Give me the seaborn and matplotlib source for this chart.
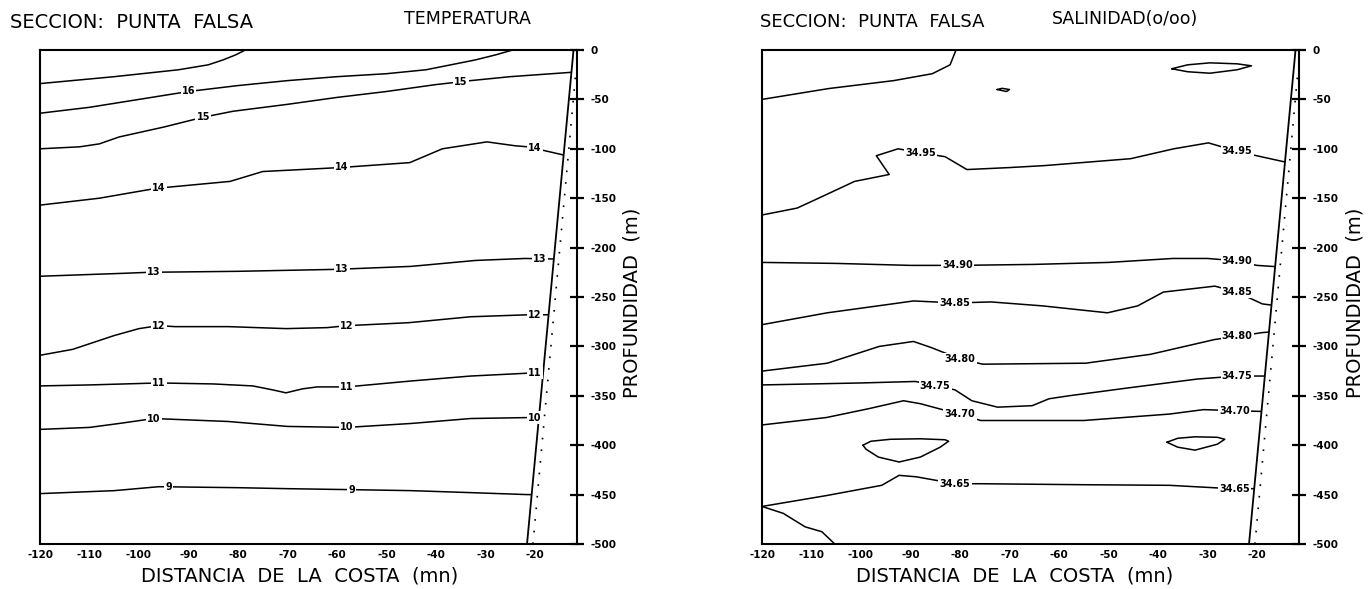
import numpy as np
import matplotlib
matplotlib.use("Agg")
import matplotlib.pyplot as plt
import seaborn as sns
from matplotlib.patches import Polygon

# ---------------- axes / ticks ----------------
x_ticks = [-120, -110, -100, -90, -80, -70, -60, -50, -40, -30, -20]
x_tick_labels = ["-120", "-110", "-100", "-90", "-80", "-70", "-60", "-50", "-40", "-30", "-20"]
y_ticks = [0, -50, -100, -150, -200, -250, -300, -350, -400, -450, -500]
y_tick_labels = ["0", "-50", "-100", "-150", "-200", "-250", "-300", "-350", "-400", "-450", "-500"]

# coast (solid) and shelf (dotted) lines
coast_x = [-21.6, -12.2]
coast_y = [-500, 0]
shelf_x = [-20.4, -11.7]
shelf_y = [-500, -20]

# ---------------- TEMPERATURA isolines ----------------
t17_x = [-120, -105, -92, -86, -83, -80.5, -78.5]
t17_y = [-34, -27, -20, -15, -10, -5, 0]
t16_x = [-120, -110, -100, -90, -80, -70, -60, -50, -42, -37, -32, -28, -24.5]
t16_y = [-64, -58, -50, -42, -36, -31, -27, -24, -20, -15, -10, -5, 0]
t15_x = [-120, -112, -108, -104, -95, -87, -81, -70, -60, -50, -40, -33, -25, -11]
t15_y = [-100, -98, -95, -88, -78, -68, -62, -55, -48, -42, -35, -31, -27, -22]
t14_x = [-120, -108, -96.5, -81.6, -75, -59.4, -45.3, -38.7, -29.7, -23.9, -21.4, -11]
t14_y = [-157, -150, -140, -133, -123, -119, -114, -100, -93, -97, -98, -110]
t13_x = [-120, -103, -98, -80, -60, -45, -32, -22, -11]
t13_y = [-229, -226, -225, -224, -222, -219, -213, -211, -212]
t12_x = [-120, -113.4, -105, -100, -96, -92.7, -81.9, -70.3, -62, -57.9, -45.5, -33, -21.4, -11]
t12_y = [-309, -303, -289, -282, -279, -280, -280, -282, -281, -279, -276, -270, -268, -268]
t11_x = [-120, -110, -96, -85, -77, -73, -70.3, -67, -64, -58, -45, -33, -21, -11]
t11_y = [-340, -339, -337, -338, -340, -344, -347, -343, -341, -341, -335, -330, -327, -326]
t10_x = [-120, -110, -104, -97, -82, -70, -58, -45, -33, -21, -11]
t10_y = [-384, -382, -378, -373, -376, -381, -382, -378, -373, -372, -372]
t9_x = [-120, -105, -96, -80, -70, -57, -45, -33, -21.5, -11]
t9_y = [-449, -446, -442, -443, -444, -445, -446, -448, -450, -450]

temp_levels = ["16", "15", "14", "13", "12", "11", "10", "9"]
temp_label_x = [[-90], [-87, -35], [-96, -59, -20], [-97, -59, -19],
                [-96, -58, -20], [-96, -58, -20], [-97, -58, -20], [-94, -57]]

# ---------------- SALINIDAD isolines ----------------
s_top_x = [-120, -106.5, -93.4, -85.6, -82, -80.8]
s_top_y = [-50, -39, -31, -24, -15, 0]
s_cell_x = [-37.2, -34, -29.5, -24, -21.1, -24, -29.5, -34, -37.2]
s_cell_y = [-19, -15, -13, -14, -16, -20, -23.5, -22, -19]
s_dot_x = [-72.5, -71.5, -70, -70.6, -72.5]
s_dot_y = [-40, -38.8, -40, -42, -40]
s95_x = [-120, -112.9, -109, -101.3, -94.3, -96.9, -92.5, -88, -83, -78.6, -70, -62.9, -45.5, -36.8, -29.8, -23.7, -11]
s95_y = [-167, -160, -151, -133, -126, -107, -100, -104, -108, -121, -119, -117, -110, -100, -94, -103, -117]
s90_x = [-120, -105, -90, -80, -65, -50, -37, -30, -25, -20, -11]
s90_y = [-215, -216, -218, -218, -217, -215, -211, -211, -213, -218, -221]
s85_x = [-120, -106.8, -93.7, -89.4, -80.7, -73.7, -63.3, -50.2, -44.1, -38.9, -28.5, -24.1, -18.9, -11]
s85_y = [-278, -266, -257, -254, -256, -255, -259, -266, -259, -245, -239, -245, -257, -262]
s80_x = [-120, -106.8, -96.3, -89.4, -85.9, -79.8, -75.4, -54.6, -41.5, -28.5, -24.1, -18.9, -11]
s80_y = [-325, -317, -300, -295, -301, -313, -318, -317, -308, -293, -290, -286, -283]
s75_x = [-120, -100, -89, -84.6, -81, -77.6, -72.4, -65.4, -62, -58, -46, -32, -24, -11]
s75_y = [-339, -337, -335.5, -340, -344, -355, -361.5, -360, -353, -350, -342, -333, -330, -330]
s70_x = [-120, -107, -98.4, -91.4, -88, -80.2, -75.8, -55, -37.7, -30.8, -24.8, -11]
s70_y = [-379.5, -372, -363, -355, -358, -368.5, -375, -375, -368.5, -364, -365, -367]
s_lens1_x = [-99.6, -98, -94, -88, -83, -82.3, -84, -88, -92.3, -96.5, -99, -99.6]
s_lens1_y = [-400, -396, -394, -393.5, -394.5, -396, -402, -412, -417, -412, -404, -400]
s_lens2_x = [-38.2, -36, -32.5, -28, -26.5, -28, -32.5, -36, -38.2]
s_lens2_y = [-397, -393, -391.5, -392, -394, -399, -405, -402, -397]
s65_x = [-120, -107, -95.8, -92.3, -88.8, -81, -75.8, -55, -37.7, -25.2, -11]
s65_y = [-462, -451, -440.6, -430.5, -432, -439, -439, -440, -440.6, -444, -444]
s_bot_x = [-120, -115.7, -111.3, -107.9, -105.3]
s_bot_y = [-462, -469, -482.6, -487.6, -500]

sal_levels = ["34.95", "34.90", "34.85", "34.80", "34.75", "34.70", "34.65"]
sal_label_x = [[-88, -24], [-80.5, -24], [-81, -24], [-80, -24],
               [-85, -24], [-80, -24.5], [-81, -24.5]]

# ---------------- drawing ----------------
sns.set_style("white")
plt.rcParams['font.family'] = ['DejaVu Sans']
plt.rcParams['text.color'] = 'black'
plt.rcParams['axes.labelcolor'] = 'black'
plt.rcParams['xtick.color'] = 'black'
plt.rcParams['ytick.color'] = 'black'

W, H = 1372, 589
fig = plt.figure(figsize=(W / 100, H / 100), dpi=100)
ax_t = fig.add_axes([40 / W, 1 - 544 / H, 537 / W, 494 / H])
ax_s = fig.add_axes([762 / W, 1 - 544 / H, 537 / W, 494 / H])

XMIN, XMAX = -120, -11.5


def y_on_line(xs, ys, x0):
    res = ys[0]
    for i in range(len(xs) - 1):
        a, b = xs[i], xs[i + 1]
        if a != b and min(a, b) <= x0 <= max(a, b):
            t = (x0 - a) / (b - a)
            res = ys[i] + t * (ys[i + 1] - ys[i])
    return res


def draw_line(ax, xs, ys, clip):
    sns.lineplot(x=xs, y=ys, sort=False, estimator=None, color="black",
                 linewidth=1.1, ax=ax)
    ax.lines[-1].set_clip_path(clip)


def setup(ax):
    ax.set_xlim(XMIN, XMAX)
    ax.set_ylim(-500, 0)
    ocean = Polygon([(XMIN, 0), (coast_x[1], coast_y[1]), (coast_x[0], coast_y[0]), (XMIN, -500)],
                    closed=True, transform=ax.transData, facecolor="none", edgecolor="none")
    ax.add_patch(ocean)
    ax.set_xticks(x_ticks)
    ax.set_xticklabels(x_tick_labels, fontsize=7.5, fontweight="bold", color="black")
    ax.yaxis.tick_right()
    ax.set_yticks(y_ticks)
    ax.set_yticklabels(y_tick_labels, fontsize=7.5, fontweight="bold", color="black")
    ax.tick_params(axis="x", direction="in", length=6, width=1.2, pad=4, colors="black")
    ax.tick_params(axis="y", direction="inout", length=10, width=1.6, pad=5, colors="black",
                   left=False, right=True)
    for sp in ax.spines.values():
        sp.set_visible(True)
        sp.set_color("black")
        sp.set_linewidth(1.5)
    ax.grid(False)
    # coast and shelf
    ax.plot(coast_x, coast_y, color="black", linewidth=1.3)
    ax.plot(shelf_x, shelf_y, color="black", linewidth=1.2, linestyle=(0, (1, 6)))
    ax.set_xlabel("")
    ax.set_ylabel("")
    return ocean


def put_labels(ax, xs, ys, text, positions):
    for xp in positions:
        ax.text(xp, y_on_line(xs, ys, xp), text, fontsize=7, ha="center", va="center",
                fontweight="bold", zorder=5, color="black",
                bbox=dict(boxstyle="square,pad=0.12", fc="white", ec="none"))


# temperature panel
clip_t = setup(ax_t)
temp_lines = [(t16_x, t16_y), (t15_x, t15_y), (t14_x, t14_y), (t13_x, t13_y),
              (t12_x, t12_y), (t11_x, t11_y), (t10_x, t10_y), (t9_x, t9_y)]
draw_line(ax_t, t17_x, t17_y, clip_t)
for (xs, ys), lev, lx in zip(temp_lines, temp_levels, temp_label_x):
    draw_line(ax_t, xs, ys, clip_t)
    put_labels(ax_t, xs, ys, lev, lx)

# salinity panel
clip_s = setup(ax_s)
for xs, ys in [(s_top_x, s_top_y), (s_cell_x, s_cell_y), (s_dot_x, s_dot_y),
               (s_lens1_x, s_lens1_y), (s_lens2_x, s_lens2_y), (s_bot_x, s_bot_y)]:
    draw_line(ax_s, xs, ys, clip_s)
sal_lines = [(s95_x, s95_y), (s90_x, s90_y), (s85_x, s85_y), (s80_x, s80_y),
             (s75_x, s75_y), (s70_x, s70_y), (s65_x, s65_y)]
for (xs, ys), lev, lx in zip(sal_lines, sal_levels, sal_label_x):
    draw_line(ax_s, xs, ys, clip_s)
    put_labels(ax_s, xs, ys, lev, lx)

# titles and axis labels
fig.text(10 / W, 1 - 22 / H, "SECCION:  PUNTA  FALSA", fontsize=14, ha="left", va="center", color="black")
fig.text(404 / W, 1 - 19 / H, "TEMPERATURA", fontsize=12.5, ha="left", va="center", color="black")
fig.text(760 / W, 1 - 22 / H, "SECCION:  PUNTA  FALSA", fontsize=13, ha="left", va="center", color="black")
fig.text(1052 / W, 1 - 19 / H, "SALINIDAD(o/oo)", fontsize=12.5, ha="left", va="center", color="black")

fig.text(300 / W, 1 - 576 / H, "DISTANCIA  DE  LA  COSTA  (mn)", fontsize=14, ha="center", va="center", color="black")
fig.text(1015 / W, 1 - 576 / H, "DISTANCIA  DE  LA  COSTA  (mn)", fontsize=14, ha="center", va="center", color="black")
fig.text(632 / W, 1 - 303 / H, "PROFUNDIDAD  (m)", fontsize=14, rotation=90, ha="center", va="center", color="black")
fig.text(1355 / W, 1 - 303 / H, "PROFUNDIDAD  (m)", fontsize=14, rotation=90, ha="center", va="center", color="black")

fig.savefig("out.png", dpi=100, facecolor="white")
